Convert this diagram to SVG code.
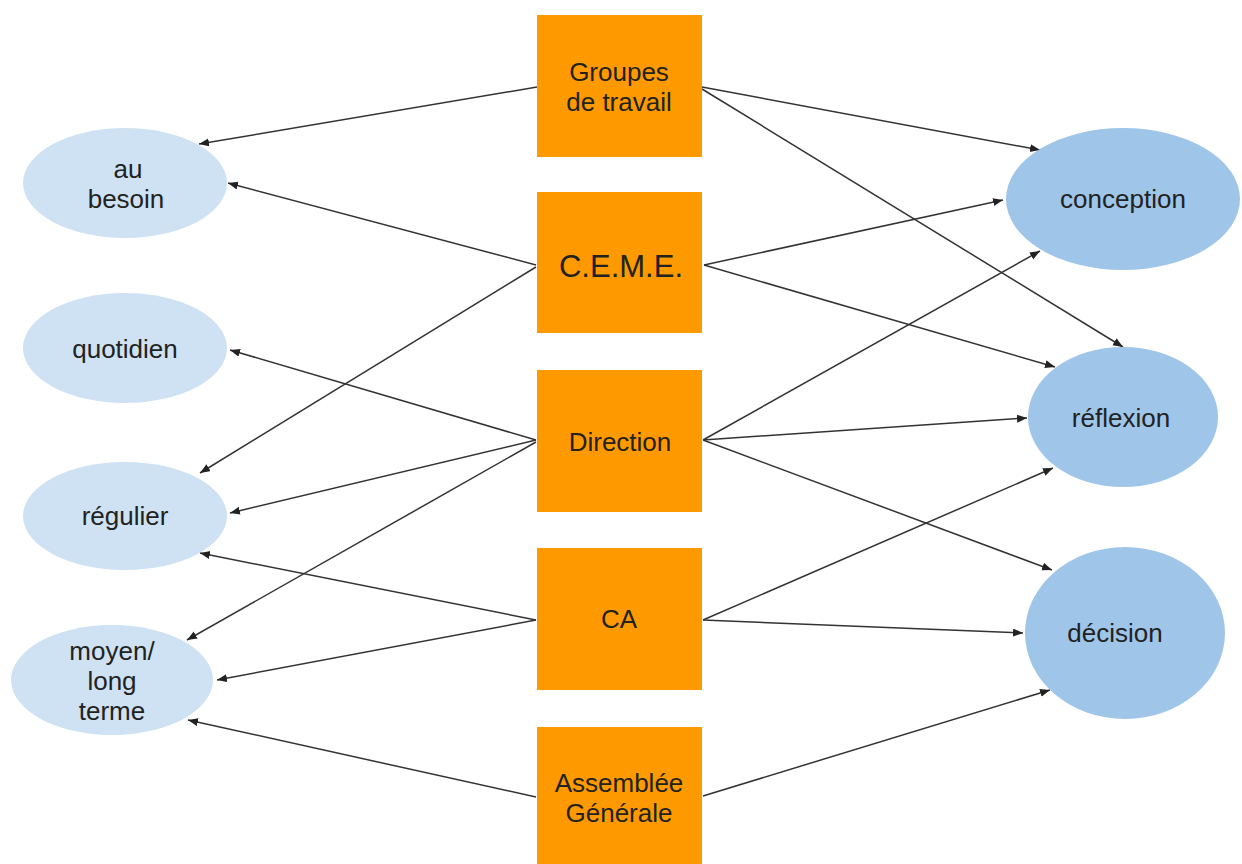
<svg xmlns="http://www.w3.org/2000/svg" width="1242" height="864" viewBox="0 0 1242 864">
<style>
.box{fill:#ff9900}
.e1{fill:#cfe2f3}
.e2{fill:#9fc5e8}
text{font-family:"Liberation Sans",Arial,sans-serif;font-size:26px;fill:#222;text-anchor:middle}
.big{font-size:31px}
.c line{stroke:#333;stroke-width:1.5;marker-end:url(#ah)}
</style>
<defs>
<marker id="ah" markerUnits="userSpaceOnUse" markerWidth="11" markerHeight="9" refX="10" refY="4" orient="auto">
<path d="M0,0 L10,4 L0,8 z" fill="#222"/>
</marker>
</defs>
<rect width="1242" height="864" fill="#fff"/>
<g class="c" id="connectors">
<line x1="537" y1="87" x2="199" y2="144"/>
<line x1="536" y1="265" x2="228" y2="183"/>
<line x1="702" y1="87" x2="1040" y2="150"/>
<line x1="702" y1="89" x2="1123" y2="347"/>
<line x1="704" y1="265" x2="1003" y2="200"/>
<line x1="704" y1="265" x2="1055" y2="367"/>
<line x1="536" y1="267" x2="200" y2="473"/>
<line x1="536" y1="440" x2="230" y2="350"/>
<line x1="536" y1="440" x2="230" y2="513"/>
<line x1="536" y1="442" x2="187" y2="640"/>
<line x1="703" y1="440" x2="1040" y2="251"/>
<line x1="703" y1="440" x2="1027" y2="418"/>
<line x1="703" y1="440" x2="1052" y2="570"/>
<line x1="536" y1="620" x2="200" y2="553"/>
<line x1="536" y1="620" x2="217" y2="680"/>
<line x1="703" y1="620" x2="1053" y2="468"/>
<line x1="703" y1="620" x2="1023" y2="633"/>
<line x1="536" y1="797" x2="188" y2="720"/>
<line x1="703" y1="796" x2="1050" y2="690"/>
</g>
<g id="groupes"><rect class="box" x="537" y="15" width="165" height="142"/><text x="619" y="81">Groupes</text><text x="619" y="111">de travail</text></g>
<g id="ceme"><rect class="box" x="537" y="192" width="165" height="141"/><text class="big" x="621" y="277">C.E.M.E.</text></g>
<g id="direction"><rect class="box" x="537" y="370" width="165" height="142"/><text x="620" y="451">Direction</text></g>
<g id="ca"><rect class="box" x="537" y="548" width="165" height="142"/><text x="619" y="628">CA</text></g>
<g id="ag"><rect class="box" x="537" y="727" width="165" height="137"/><text x="619" y="792">Assemblée</text><text x="619" y="822">Générale</text></g>
<g id="au-besoin"><ellipse class="e1" cx="125" cy="183" rx="102" ry="55"/><text x="128" y="178">au</text><text x="126" y="208">besoin</text></g>
<g id="quotidien"><ellipse class="e1" cx="125" cy="348" rx="102" ry="55"/><text x="125" y="358">quotidien</text></g>
<g id="regulier"><ellipse class="e1" cx="125" cy="516" rx="102" ry="54"/><text x="125" y="525">régulier</text></g>
<g id="moyen"><ellipse class="e1" cx="112" cy="680" rx="101" ry="55"/><text x="112" y="660">moyen/</text><text x="112" y="690">long</text><text x="112" y="720">terme</text></g>
<g id="conception"><ellipse class="e2" cx="1123" cy="199" rx="117" ry="71"/><text x="1123" y="208">conception</text></g>
<g id="reflexion"><ellipse class="e2" cx="1123" cy="417" rx="95" ry="70"/><text x="1121" y="427">réflexion</text></g>
<g id="decision"><ellipse class="e2" cx="1125" cy="633" rx="100" ry="86"/><text x="1115" y="642">décision</text></g>
</svg>
